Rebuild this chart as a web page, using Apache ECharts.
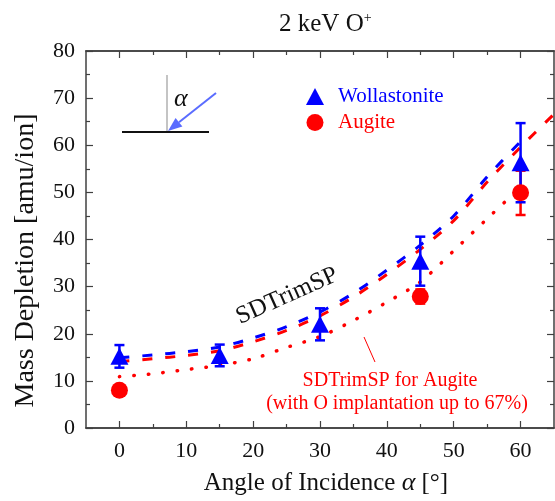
<!DOCTYPE html>
<html lang="en">
<head>
    <meta charset="UTF-8">
    <title>Mass Depletion</title>
    <style>
        html, body { margin: 0; padding: 0; background: #fff; }
    </style>
</head>
<body>
<div class="main" style="width: 555px;height: 501px;"></div>
<script src="https://cdn.jsdelivr.net/npm/echarts@6/dist/echarts.min.js"></script>
<script>
    // measured data
    var angles = [0, 15, 30, 45, 60];
    var wollastonite = [15.2, 15.4, 22.0, 35.4, 56.3];
    var wollastoniteErr = [2.4, 2.3, 3.4, 5.2, 8.4];

    var augiteAngles = [0, 45, 60];
    var augite = [8.0, 27.9, 49.9];
    var augiteErr = [0, 1.5, 4.7];

    // SDTrimSP curves
    var simAngles = [0, 5, 10, 15, 20, 25, 30, 35, 40, 45, 50, 55, 60];
    var simWollastonite = [14.9, 15.5, 16.2, 17.2, 19.1, 21.5, 24.6, 28.6, 33.5, 38.8, 45.0, 53.3, 60.8];
    var simAugiteAngles = [0, 5, 10, 15, 20, 25, 30, 35, 40, 45, 50, 55, 60, 65];
    var simAugite = [14.1, 14.7, 15.4, 16.4, 18.3, 20.7, 23.8, 27.8, 32.6, 37.9, 44.0, 52.2, 59.6, 66.6];
    var simAugiteO = [10.9, 11.5, 12.4, 13.3, 14.7, 17.1, 19.4, 22.8, 26.7, 31.0, 37.6, 44.4, 51.1];

    var xMajor = [0, 10, 20, 30, 40, 50, 60];
    var xMinor = [5, 15, 25, 35, 45, 55];

    var BLUE = '#0000ff';
    var RED = '#ff0000';
    var AXIS = '#404040';
    var FONT = '"Liberation Serif", "Times New Roman", serif';

    var main = document.querySelector(".main");
    var chart = echarts.init(main);

    function pairs(xs, ys) {
        return xs.map(function (x, i) { return [x, ys[i]]; });
    }

    function errData(xs, ys, es) {
        var out = [];
        xs.forEach(function (x, i) {
            if (es[i] > 0) out.push([x, ys[i] - es[i], ys[i] + es[i]]);
        });
        return out;
    }

    function errorBars(color) {
        return function (params, api) {
            var x = api.value(0);
            var lo = api.coord([x, api.value(1)]);
            var hi = api.coord([x, api.value(2)]);
            var w = 5;
            var style = {stroke: color, lineWidth: 2.5};
            return {
                type: 'group',
                children: [
                    {type: 'line', shape: {x1: lo[0], y1: lo[1], x2: hi[0], y2: hi[1]}, style: style},
                    {type: 'line', shape: {x1: lo[0] - w, y1: lo[1], x2: lo[0] + w, y2: lo[1]}, style: style},
                    {type: 'line', shape: {x1: hi[0] - w, y1: hi[1], x2: hi[0] + w, y2: hi[1]}, style: style}
                ]
            };
        };
    }

    function xAxisDef(pos, ticks, len, labels) {
        return {
            type: 'value', position: pos, min: -5, max: 65,
            axisLine: {show: true, onZero: false, lineStyle: {color: AXIS, width: 1.5}},
            axisTick: {show: true, inside: true, length: len, customValues: ticks, lineStyle: {color: AXIS, width: 1.2}},
            axisLabel: labels ? {customValues: ticks, fontFamily: FONT, fontSize: 22, color: '#111', margin: 12} : {show: false},
            splitLine: {show: false}
        };
    }

    function yAxisDef(pos, labels) {
        return {
            type: 'value', position: pos, min: 0, max: 80, interval: 10,
            axisLine: {show: true, onZero: false, lineStyle: {color: AXIS, width: 1.5}},
            axisTick: {show: true, inside: true, length: 7, lineStyle: {color: AXIS, width: 1.2}},
            minorTick: {show: true, splitNumber: 2, length: 4, lineStyle: {color: AXIS, width: 1.2}},
            axisLabel: labels ? {fontFamily: FONT, fontSize: 22, color: '#111', margin: 11} : {show: false},
            splitLine: {show: false}
        };
    }

    // inset arrow geometry
    var tip = [168, 131], tail = [216, 93];
    var dx = tail[0] - tip[0], dy = tail[1] - tip[1];
    var dl = Math.sqrt(dx * dx + dy * dy);
    var ux = dx / dl, uy = dy / dl;
    var bx = tip[0] + ux * 14, by = tip[1] + uy * 14;

    var xBottom = xAxisDef('bottom', xMajor, 7, true);
    xBottom.name = '{n|Angle of Incidence }{i|α}{n| [°]}';
    xBottom.nameLocation = 'middle';
    xBottom.nameGap = 42;
    xBottom.nameTextStyle = {
        padding: [0, 0, 0, 12],
        rich: {
            n: {fontFamily: FONT, fontSize: 25, color: '#111'},
            i: {fontFamily: FONT, fontSize: 26, fontStyle: 'italic', color: '#111'}
        }
    };

    var yLeft = yAxisDef('left', true);
    yLeft.name = 'Mass Depletion [amu/ion]';
    yLeft.nameLocation = 'middle';
    yLeft.nameGap = 46;
    yLeft.nameTextStyle = {fontFamily: FONT, fontSize: 28, color: '#111', padding: [0, 42, 0, 0]};

    var option = {
        animation: false,
        backgroundColor: '#fff',
        title: {
            text: '{a|2 keV O}{b|+}',
            left: 274, top: 6,
            textStyle: {
                fontWeight: 'normal',
                rich: {
                    a: {fontFamily: FONT, fontSize: 25, fontWeight: 'normal', color: '#111'},
                    b: {fontFamily: FONT, fontSize: 14, fontWeight: 'normal', color: '#111', padding: [0, 0, 12, 0]}
                }
            }
        },
        grid: {left: 86, right: 1, top: 51, bottom: 73},
        legend: {
            orient: 'vertical', left: 301, top: 81,
            itemWidth: 18, itemHeight: 17, itemGap: 5,
            textStyle: {fontFamily: FONT, fontSize: 21, padding: [0, 0, 0, 9]},
            data: [
                {name: 'Wollastonite', icon: 'triangle', textStyle: {color: BLUE}},
                {name: 'Augite', icon: 'circle', textStyle: {color: RED}}
            ]
        },
        xAxis: [
            xBottom,
            xAxisDef('bottom', xMinor, 4, false),
            xAxisDef('top', xMajor, 7, false),
            xAxisDef('top', xMinor, 4, false)
        ],
        yAxis: [yLeft, yAxisDef('right', false)],
        series: [
            {
                name: 'SDTrimSP Wollastonite', type: 'line', smooth: 0.3, symbol: 'none', z: 2,
                lineStyle: {color: BLUE, width: 3, type: [10, 13]},
                data: pairs(simAngles, simWollastonite)
            },
            {
                name: 'SDTrimSP Augite', type: 'line', smooth: 0.3, symbol: 'none', z: 2,
                lineStyle: {color: RED, width: 3, type: [10, 13]},
                data: pairs(simAugiteAngles, simAugite)
            },
            {
                name: 'SDTrimSP Augite O', type: 'line', smooth: 0.3, symbol: 'none', z: 2,
                lineStyle: {color: RED, width: 3.5, type: [0.5, 14], cap: 'round'},
                data: pairs(simAngles, simAugiteO)
            },
            {
                name: 'Augite err', type: 'custom', z: 3,
                renderItem: errorBars(RED),
                data: errData(augiteAngles, augite, augiteErr)
            },
            {
                name: 'Wollastonite err', type: 'custom', z: 4,
                renderItem: errorBars(BLUE),
                data: errData(angles, wollastonite, wollastoniteErr)
            },
            {
                name: 'Augite', type: 'scatter', symbol: 'circle', symbolSize: 17, z: 5,
                itemStyle: {color: RED, opacity: 1},
                data: pairs(augiteAngles, augite)
            },
            {
                name: 'Wollastonite', type: 'scatter', symbol: 'triangle', symbolSize: [18, 17], z: 6,
                itemStyle: {color: BLUE, opacity: 1},
                data: pairs(angles, wollastonite)
            }
        ],
        graphic: [
            {type: 'line', shape: {x1: 167, y1: 75, x2: 167, y2: 132}, style: {stroke: '#c4c4c4', lineWidth: 2}},
            {type: 'line', shape: {x1: 122, y1: 132, x2: 209, y2: 132}, style: {stroke: '#111', lineWidth: 2}},
            {type: 'line', shape: {x1: tail[0], y1: tail[1], x2: bx, y2: by}, style: {stroke: '#5a6cff', lineWidth: 2}},
            {
                type: 'polygon',
                shape: {points: [tip, [bx - uy * 5.5, by + ux * 5.5], [bx + uy * 5.5, by - ux * 5.5]]},
                style: {fill: '#5a6cff'}
            },
            {
                type: 'text', x: 174, y: 86,
                style: {text: 'α', font: 'italic 26px ' + FONT, fill: '#111'}
            },
            {
                type: 'text', x: 287, y: 296, rotation: 24 * Math.PI / 180,
                style: {text: 'SDTrimSP', font: '25px ' + FONT, fill: '#111', textAlign: 'center', textVerticalAlign: 'middle'}
            },
            {
                type: 'line', shape: {x1: 364, y1: 337, x2: 375, y2: 362}, style: {stroke: RED, lineWidth: 1}
            },
            {
                type: 'text', x: 390, y: 381,
                style: {text: 'SDTrimSP for Augite', font: '20px ' + FONT, fill: RED, textAlign: 'center', textVerticalAlign: 'middle'}
            },
            {
                type: 'text', x: 397, y: 404,
                style: {text: '(with O implantation up to 67%)', font: '20px ' + FONT, fill: RED, textAlign: 'center', textVerticalAlign: 'middle'}
            }
        ]
    };
    chart.setOption(option);
</script>
</body>
</html>
